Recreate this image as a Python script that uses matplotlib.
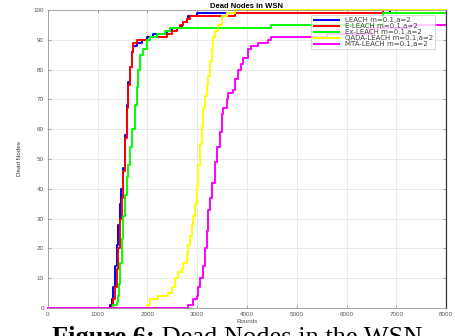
import matplotlib
matplotlib.use("Agg")
import matplotlib.pyplot as plt

# cumulative dead nodes per protocol (rounds, dead count)
leach_r = [0, 1246, 1280, 1313, 1347, 1380, 1414, 1447, 1461, 1500, 1548, 1581, 1615, 1648,
           1682, 1715, 1782, 1883, 1990, 2117, 2318, 2385, 2452, 2486, 2687, 2720, 2787,
           2821, 2888, 2988, 6870, 8000]
leach_d = [0, 1, 3, 7, 14, 21, 28, 35, 40, 47, 58, 68, 76, 81,
           86, 88, 89, 90, 91, 92, 92, 93, 93, 94, 95, 96, 97,
           98, 98, 99, 100, 100]

eleach_r = [0, 1280, 1313, 1347, 1380, 1414, 1447, 1481, 1514, 1548, 1581, 1615, 1648,
            1682, 1715, 1782, 1916, 2050, 2400, 2486, 2586, 2650, 2720, 2790, 2854,
            3750, 6730, 8000]
eleach_d = [0, 1, 3, 7, 13, 20, 30, 37, 46, 57, 67, 75, 81,
            86, 89, 90, 90, 91, 92, 93, 94, 95, 96, 97, 98,
            99, 100, 100]

exleach_r = [0, 1313, 1380, 1414, 1434, 1447, 1481, 1514, 1548, 1581, 1615, 1648, 1695,
             1749, 1782, 1816, 1849, 1916, 1983, 2050, 2200, 2350, 2450, 4480, 6730, 8000]
exleach_d = [0, 1, 2, 4, 8, 15, 23, 31, 38, 44, 48, 54, 60,
             68, 74, 80, 85, 87, 90, 91, 92, 93, 94, 95, 99, 99]

qada_r = [0, 1983, 2050, 2117, 2218, 2352, 2419, 2486, 2553, 2620, 2687, 2720, 2787,
          2821, 2854, 2888, 2921, 2955, 2988, 3022, 3055, 3089, 3122, 3156, 3190, 3223,
          3256, 3290, 3323, 3357, 3424, 3491, 3591, 3759, 8000]
qada_d = [0, 1, 3, 3, 4, 4, 5, 7, 10, 12, 13, 15, 18,
          21, 24, 28, 31, 35, 41, 48, 55, 61, 67, 71, 75, 78,
          83, 87, 91, 93, 95, 98, 99, 100, 100]

mta_r = [0, 2820, 2921, 2988, 3022, 3055, 3109, 3156, 3189, 3223, 3256, 3290, 3357,
         3390, 3457, 3491, 3524, 3591, 3624, 3725, 3759, 3819, 3886, 3920, 4020, 4087,
         4221, 4422, 4489, 4590, 5600, 6500, 7300, 8000]
mta_d = [0, 1, 3, 4, 7, 10, 14, 20, 26, 33, 37, 42, 49,
         54, 59, 65, 67, 70, 72, 73, 77, 80, 82, 84, 87, 88,
         89, 90, 91, 91, 92, 94, 95, 95]

labels = ['LEACH m=0.1,a=2', 'E-LEACH m=0.1,a=2', 'Ex-LEACH m=0.1,a=2',
          'QADA-LEACH m=0.1,a=2', 'MTA-LEACH m=0.1,a=2']
colors = ['#0000ff', '#ff0000', '#00ff00', '#ffff00', '#ff00ff']

x_ticks = list(range(0, 8001, 1000))
y_ticks = list(range(0, 101, 10))

plt.rcParams['font.family'] = ['Liberation Sans', 'DejaVu Sans']

fig = plt.figure(figsize=(4.56, 3.36), dpi=100)
ax = fig.add_axes([48 / 456, 28 / 336, 398 / 456, 298 / 336])

series = [(leach_r, leach_d), (eleach_r, eleach_d), (exleach_r, exleach_d),
          (qada_r, qada_d), (mta_r, mta_d)]
for (r, d), lab, c in zip(series, labels, colors):
    ax.plot(r, d, drawstyle='steps-post', color=c, lw=1.4, label=lab, clip_on=False)

ax.set_xlim(0, 8000)
ax.set_ylim(0, 100)
ax.set_xticks(x_ticks)
ax.set_yticks(y_ticks)
ax.tick_params(direction='in', top=True, right=True, labelsize=4.5,
               labelcolor='#555555', color='#888888', length=2.5, width=0.5, pad=3)
ax.grid(True, color='#e6e6e6', lw=0.6)
ax.set_axisbelow(True)
for s in ['left', 'bottom', 'top']:
    ax.spines[s].set_color('#999999')
    ax.spines[s].set_linewidth(0.6)
ax.spines['right'].set_color('#333333')
ax.spines['right'].set_linewidth(0.9)

ax.set_title('Dead Nodes in WSN', fontsize=5.5, fontweight='bold', pad=1.5)
ax.set_xlabel('Rounds', fontsize=4.5, color='#555555', labelpad=1)
ax.set_ylabel('Dead Nodes', fontsize=4.5, color='#333333', labelpad=8)

leg = ax.legend(loc='upper right', bbox_to_anchor=((435 - 48) / 398, 1 - 5 / 298),
                prop={'family': 'DejaVu Sans', 'size': 5.0}, frameon=True,
                fancybox=False, borderpad=0.3, borderaxespad=0,
                labelspacing=0.0, handlelength=3.6, handletextpad=0.9)
leg.get_frame().set_edgecolor('#bbbbbb')
leg.get_frame().set_linewidth(0.5)
for t in leg.get_texts():
    t.set_color('#444444')

# caption below the chart
fig.canvas.draw()
renderer = fig.canvas.get_renderer()
cap_y = -8 / 336
t1 = fig.text(52 / 456, cap_y, 'Figure 6:', fontsize=19, fontweight='bold',
              family='Liberation Serif', va='baseline', ha='left')
bb = t1.get_window_extent(renderer)
fig.text(bb.x1 / fig.bbox.width, cap_y, ' Dead Nodes in the WSN', fontsize=19,
         family='Liberation Serif', va='baseline', ha='left')

fig.savefig('out.png', dpi=100)
